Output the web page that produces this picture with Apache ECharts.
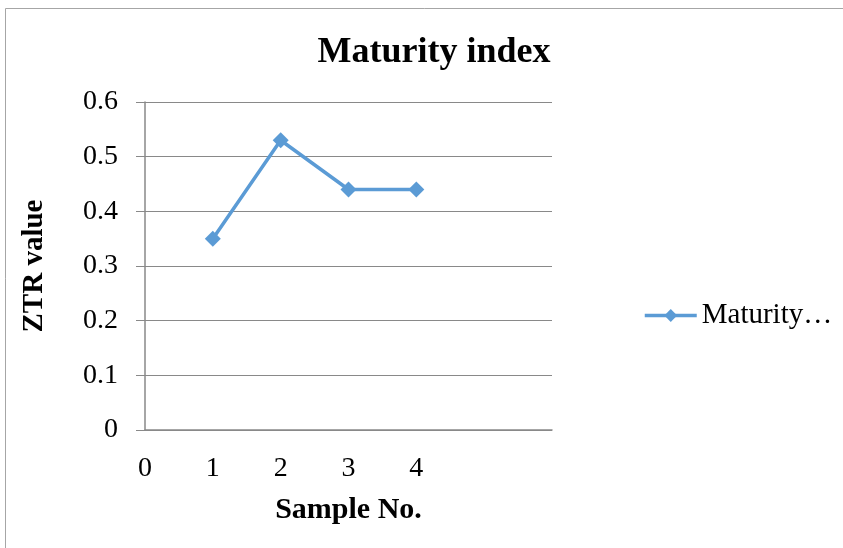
<!DOCTYPE html>
<html>
<head>
<meta charset="utf-8">
<script src="https://cdn.jsdelivr.net/npm/echarts@6/dist/echarts.min.js"></script>
<style>
  html, body { margin: 0; padding: 0; background: #fff; }
  #chart { width: 843px; height: 548px; }
</style>
</head>
<body>
<div id="chart"></div>
<script>
// sample numbers and ZTR values
const samples = [1, 2, 3, 4];
const ztr = [0.35, 0.53, 0.44, 0.44];
const xTicks = [0, 1, 2, 3, 4];

const serif = '"Liberation Serif", "Times New Roman", serif';
const blue = '#5B9BD5';

const chart = echarts.init(document.getElementById('chart'));
chart.setOption({
  backgroundColor: '#fff',
  animation: false,
  graphic: [{
    type: 'rect',
    shape: { x: 5.5, y: 8.5, width: 900, height: 600 },
    style: { fill: 'none', stroke: '#a6a6a6', lineWidth: 1 },
    silent: true
  }],
  title: {
    text: 'Maturity index',
    left: 429, top: 30, textAlign: 'center',
    textStyle: { fontFamily: serif, fontSize: 36, fontWeight: 'bold', color: '#000' }
  },
  legend: {
    left: 638, top: 296,
    itemWidth: 52, itemHeight: 16, itemGap: 5,
    formatter: () => 'Maturity…',
    lineStyle: { width: 3.5 },
    textStyle: { fontFamily: serif, fontSize: 29, color: '#000', padding: [0, 0, 0, 0] }
  },
  grid: { left: 145, right: 291, top: 102, bottom: 118 },
  xAxis: {
    type: 'value', min: 0, max: 6, interval: 1,
    name: 'Sample No.', nameLocation: 'middle', nameGap: 65,
    nameTextStyle: { fontFamily: serif, fontSize: 30, fontWeight: 'bold', color: '#000', padding: [0, 0, 0, 0] },
    axisLine: { show: true, lineStyle: { color: '#898989', width: 1.5 } },
    axisTick: { show: false },
    splitLine: { show: false },
    axisLabel: {
      margin: 25, fontFamily: serif, fontSize: 28, color: '#000',
      formatter: v => xTicks.includes(v) ? String(v) : ''
    }
  },
  yAxis: {
    type: 'value', min: 0, max: 0.6, interval: 0.1,
    name: 'ZTR value', nameLocation: 'middle', nameGap: 96,
    nameTextStyle: { fontFamily: serif, fontSize: 29, fontWeight: 'bold', color: '#000' },
    axisLine: { show: true, lineStyle: { color: '#898989', width: 1.5 } },
    axisTick: { show: true, length: 9, lineStyle: { color: '#898989', width: 1 } },
    splitLine: { show: true, lineStyle: { color: '#898989', width: 1 } },
    axisLabel: {
      margin: 27, fontFamily: serif, fontSize: 28, color: '#000',
      formatter: v => v === 0 ? '0' : v.toFixed(1)
    }
  },
  series: [{
    name: 'Maturity index',
    type: 'line',
    data: samples.map((s, i) => [s, ztr[i]]),
    symbol: 'diamond',
    symbolSize: 16,
    lineStyle: { color: blue, width: 3.5 },
    itemStyle: { color: blue }
  }]
});
</script>
</body>
</html>
